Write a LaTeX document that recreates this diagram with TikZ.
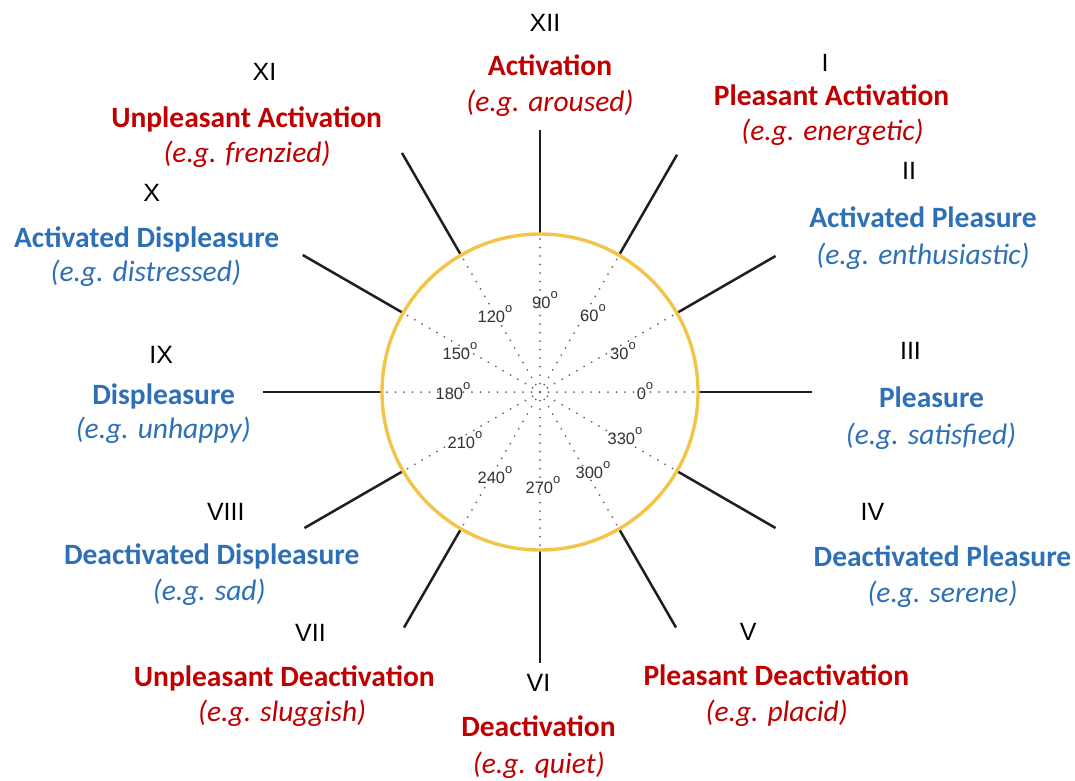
\documentclass[tikz,border=0pt]{standalone}
\usepackage{fontspec}
\setmainfont{Carlito}
\newfontfamily\romfont{Liberation Sans}
\definecolor{lblred}{HTML}{C00000}
\definecolor{lblblue}{HTML}{2E70B5}
\definecolor{ringgold}{HTML}{F2C447}
\definecolor{deggray}{HTML}{333333}
\newcommand\degsup{\raisebox{0.55em}{\fontsize{13}{13}\selectfont o}}
\tikzset{
  numeral/.style={font=\romfont\fontsize{25}{25}\selectfont, text=black, inner sep=0pt, anchor=base},
  titlebox/.style={font=\bfseries\fontsize{29.5}{29.5}\selectfont, inner sep=0pt, anchor=base},
  examplebox/.style={font=\itshape\fontsize{29.5}{29.5}\selectfont, inner sep=0pt, anchor=base},
  redtext/.style={text=lblred},
  bluetext/.style={text=lblblue},
  deglabel/.style={font=\romfont\fontsize{16.5}{16.5}\selectfont, text=deggray, inner sep=0pt, anchor=base, yshift=-6pt, xshift=5pt},
  spoke/.style={draw=black!88, line width=2.5pt},
  dotline/.style={draw=black!60, line width=2pt, line cap=round, dash pattern=on 0pt off 8.5pt},
  ring/.style={draw=ringgold, line width=3.4pt}
}
\begin{document}
\begin{tikzpicture}[x=1pt,y=-1pt]
\useasboundingbox (0,0) rectangle (1075,780);
\fill[white] (0,0) rectangle (1075,780);
\coordinate (c) at (540,392);
% dotted radii
\foreach \a in {0,30,...,330}{
  \path (c) ++(-\a:155) coordinate (d\a);
  \draw[dotline] (c) -- (d\a);
}
% spokes
\foreach \a/\r in {0/272,30/272,60/274,90/262,120/276,150/274,180/277,210/272,240/272,270/271,300/272,330/272}{
  \path (c) ++(-\a:158) coordinate (si\a);
  \path (c) ++(-\a:\r) coordinate (so\a);
  \draw[spoke] (si\a) -- (so\a);
}
\draw[ring] (c) circle[radius=158];
% degree labels
\node[deglabel] (g90) at (540,302) {90\degsup};
\node[deglabel] (g120) at (490,316) {120\degsup};
\node[deglabel] (g60) at (588,315) {60\degsup};
\node[deglabel] (g150) at (455,353) {150\degsup};
\node[deglabel] (g30) at (618,353) {30\degsup};
\node[deglabel] (g180) at (448,393) {180\degsup};
\node[deglabel] (g0) at (640,393) {0\degsup};
\node[deglabel] (g210) at (460,442) {210\degsup};
\node[deglabel] (g330) at (620,438) {330\degsup};
\node[deglabel] (g240) at (490,477) {240\degsup};
\node[deglabel] (g300) at (588,472) {300\degsup};
\node[deglabel] (g270) at (538,487) {270\degsup};
% labels (positions are text baselines)
\node[numeral] (n12) at (545,31) {XII};
\node[titlebox,redtext] (t12) at (550,75.5) {Activation};
\node[examplebox,redtext] (e12) at (550,111.5) {(e.g. aroused)};
\node[numeral] (n1) at (825,71) {I};
\node[titlebox,redtext] (t1) at (831.5,105.5) {Pleasant Activation};
\node[examplebox,redtext] (e1) at (832.5,140) {(e.g. energetic)};
\node[numeral] (n2) at (909,179.5) {II};
\node[titlebox,bluetext] (t2) at (923,227.3) {Activated Pleasure};
\node[examplebox,bluetext] (e2) at (923,264.5) {(e.g. enthusiastic)};
\node[numeral] (n3) at (910.5,359.5) {III};
\node[titlebox,bluetext] (t3) at (931.5,407.3) {Pleasure};
\node[examplebox,bluetext] (e3) at (931,444) {(e.g. satisfied)};
\node[numeral] (n4) at (872.5,520) {IV};
\node[titlebox,bluetext] (t4) at (942.5,566.5) {Deactivated Pleasure};
\node[examplebox,bluetext] (e4) at (942.5,602) {(e.g. serene)};
\node[numeral] (n5) at (748.3,640.7) {V};
\node[titlebox,redtext] (t5) at (776.3,685) {Pleasant Deactivation};
\node[examplebox,redtext] (e5) at (776.7,721) {(e.g. placid)};
\node[numeral] (n6) at (538.5,691.5) {VI};
\node[titlebox,redtext] (t6) at (538.5,736.5) {Deactivation};
\node[examplebox,redtext] (e6) at (538.8,773) {(e.g. quiet)};
\node[numeral] (n7) at (310.5,641.7) {VII};
\node[titlebox,redtext] (t7) at (284.3,686) {Unpleasant Deactivation};
\node[examplebox,redtext] (e7) at (282.2,721.7) {(e.g. sluggish)};
\node[numeral] (n8) at (225.8,520.7) {VIII};
\node[titlebox,bluetext] (t8) at (211.7,564) {Deactivated Displeasure};
\node[examplebox,bluetext] (e8) at (209.2,600) {(e.g. sad)};
\node[numeral] (n9) at (161.3,363.3) {IX};
\node[titlebox,bluetext] (t9) at (163.7,404) {Displeasure};
\node[examplebox,bluetext] (e9) at (163.3,438) {(e.g. unhappy)};
\node[numeral] (n10) at (151.7,201.7) {X};
\node[titlebox,bluetext] (t10) at (146.7,247.3) {Activated Displeasure};
\node[examplebox,bluetext] (e10) at (145.8,281.5) {(e.g. distressed)};
\node[numeral] (n11) at (264.5,80) {XI};
\node[titlebox,redtext] (t11) at (246.6,127) {Unpleasant Activation};
\node[examplebox,redtext] (e11) at (247,162) {(e.g. frenzied)};
\end{tikzpicture}
\end{document}
